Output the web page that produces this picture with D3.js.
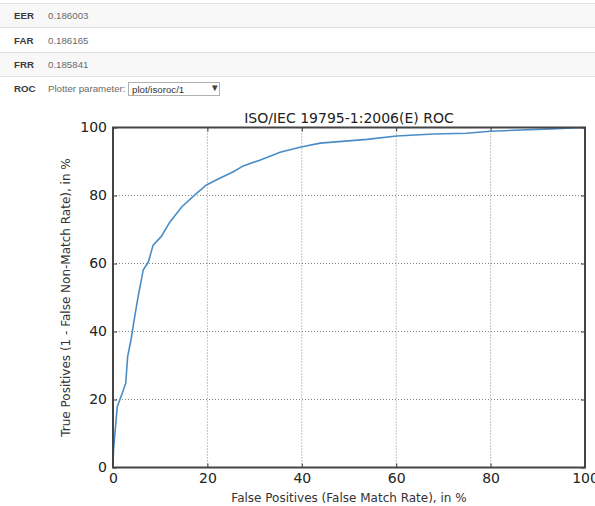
<!DOCTYPE html>
<html>
<head>
<meta charset="utf-8">
<script src="https://cdn.jsdelivr.net/npm/d3@7"></script>
<style>
  body { margin: 0; background: #fff; }
  .tbl text { font-family: "Liberation Sans", Arial, sans-serif; font-size: 9.7px; }
  .plot text { font-family: "DejaVu Sans", sans-serif; }
  .tick line { stroke: #333; }
</style>
</head>
<body>
<div id="chart"></div>
<script>
// summary rows above the plot
var rowLabels = ["EER", "FAR", "FRR"];
var rowValues = ["0.186003", "0.186165", "0.185841"];
var plotterOption = "plot/isoroc/1";

// ROC curve, in %
var fpr = [0, 0.1, 0.9, 2.0, 2.7, 3.1, 3.8, 4.6, 5.2, 6.4, 7.5, 8.5, 10.2, 12.1, 14.6, 17.7,
           19.8, 22.5, 25.5, 27.6, 31.1, 35.4, 39.6, 43.9, 53.8, 60.1, 67.9, 74.9, 79.9, 92.6, 100];
var tpr = [0, 5, 17.9, 22, 24.8, 32.6, 37.5, 44.4, 49.3, 58.1, 60.5, 65.4, 67.9, 72.3, 76.7, 80.6,
           83.1, 85, 87, 88.7, 90.4, 92.7, 94.2, 95.4, 96.5, 97.5, 98.1, 98.3, 98.9, 99.6, 100];
var tickValues = [0, 20, 40, 60, 80, 100];

var svgWidth = 595;
var svgHeight = 506;

var svg = d3.select("#chart")
    .append("svg")
    .attr("width", svgWidth)
    .attr("height", svgHeight);

// Table part
var tbl = svg.append("g").attr("class", "tbl");
var rowTop = [3, 27, 52, 76];
var rowH = [24, 25, 24, 24];

tbl.selectAll("rect.row")
    .data(rowTop)
    .enter()
    .append("rect")
    .attr("class", "row")
    .attr("x", 0)
    .attr("y", d => d)
    .attr("width", svgWidth)
    .attr("height", (d, i) => rowH[i])
    .attr("fill", (d, i) => i % 2 == 0 ? "#f8f8f8" : "#fff");

tbl.selectAll("line.border")
    .data(rowTop)
    .enter()
    .append("line")
    .attr("class", "border")
    .attr("x1", 0).attr("x2", svgWidth)
    .attr("y1", d => d + 0.5).attr("y2", d => d + 0.5)
    .attr("stroke", "#e2e2e2");

tbl.selectAll("text.lab")
    .data(rowLabels.concat(["ROC"]))
    .enter()
    .append("text")
    .attr("class", "lab")
    .attr("x", 14)
    .attr("y", (d, i) => rowTop[i] + rowH[i] / 2 + 4)
    .attr("font-weight", "bold")
    .attr("fill", "#3a3a3a")
    .text(d => d);

tbl.selectAll("text.val")
    .data(rowValues)
    .enter()
    .append("text")
    .attr("class", "val")
    .attr("x", 48)
    .attr("y", (d, i) => rowTop[i] + rowH[i] / 2 + 4)
    .attr("fill", "#6a6a6a")
    .text(d => d);

tbl.append("text")
    .attr("x", 48)
    .attr("y", 92)
    .attr("fill", "#6a6a6a")
    .text("Plotter parameter:");

tbl.append("rect")
    .attr("x", 128.5).attr("y", 82.5)
    .attr("width", 91).attr("height", 13)
    .attr("fill", "#fff")
    .attr("stroke", "#b0b0b0");

tbl.append("text")
    .attr("x", 132)
    .attr("y", 92.5)
    .attr("fill", "#333")
    .text(plotterOption);

tbl.append("text")
    .attr("x", 210)
    .attr("y", 91)
    .attr("font-size", "5px")
    .attr("fill", "#444")
    .text("\u25BC");

// Plot part
var margin = { top: 127.5, right: 10, bottom: 38.5, left: 113 };
var width = svgWidth - margin.left - margin.right;
var height = svgHeight - margin.top - margin.bottom;

var plot = svg.append("g")
    .attr("class", "plot")
    .attr("transform", `translate(${margin.left}, ${margin.top})`);

var xScale = d3.scaleLinear().domain([0, 100]).range([0, width]);
var yScale = d3.scaleLinear().domain([0, 100]).range([height, 0]);

// dotted grid
plot.append("g").selectAll("line")
    .data(tickValues.slice(1, -1))
    .enter()
    .append("line")
    .attr("x1", d => xScale(d)).attr("x2", d => xScale(d))
    .attr("y1", 0).attr("y2", height)
    .attr("stroke", "#888")
    .attr("stroke-dasharray", "1,2");

plot.append("g").selectAll("line")
    .data(tickValues.slice(1, -1))
    .enter()
    .append("line")
    .attr("x1", 0).attr("x2", width)
    .attr("y1", d => yScale(d)).attr("y2", d => yScale(d))
    .attr("stroke", "#888")
    .attr("stroke-dasharray", "1,2");

// axes with inward ticks
var bottomAxis = d3.axisBottom(xScale).tickValues(tickValues).tickSize(-4).tickSizeOuter(0).tickPadding(6);
var leftAxis = d3.axisLeft(yScale).tickValues(tickValues).tickSize(-4).tickSizeOuter(0).tickPadding(6);
var topAxis = d3.axisTop(xScale).tickValues(tickValues).tickSize(-4).tickSizeOuter(0).tickFormat("");
var rightAxis = d3.axisRight(yScale).tickValues(tickValues).tickSize(-4).tickSizeOuter(0).tickFormat("");

[[bottomAxis, `translate(0, ${height})`], [leftAxis, null],
 [topAxis, null], [rightAxis, `translate(${width}, 0)`]].forEach(function(a) {
    var g = plot.append("g").call(a[0]);
    if (a[1]) g.attr("transform", a[1]);
    g.select(".domain").remove();
    g.selectAll("text")
        .attr("font-family", "DejaVu Sans, sans-serif")
        .attr("font-size", "14px")
        .attr("fill", "#222");
});

// ROC line
var rocLine = d3.line()
    .x((d, i) => xScale(fpr[i]))
    .y(d => yScale(d));

plot.append("path")
    .datum(tpr)
    .attr("d", rocLine)
    .attr("fill", "none")
    .attr("stroke", "#4a8cc6")
    .attr("stroke-width", 1.6);

// frame
plot.append("rect")
    .attr("width", width)
    .attr("height", height)
    .attr("fill", "none")
    .attr("stroke", "#444")
    .attr("stroke-width", 2);

// title and labels
plot.append("text")
    .attr("x", width / 2)
    .attr("y", -5)
    .attr("text-anchor", "middle")
    .attr("font-size", "14px")
    .attr("fill", "#222")
    .text("ISO/IEC 19795-1:2006(E) ROC");

plot.append("text")
    .attr("x", width / 2)
    .attr("y", height + 34)
    .attr("text-anchor", "middle")
    .attr("font-size", "12px")
    .attr("fill", "#333")
    .text("False Positives (False Match Rate), in %");

plot.append("text")
    .attr("transform", "rotate(-90)")
    .attr("x", -height / 2)
    .attr("y", -43)
    .attr("text-anchor", "middle")
    .attr("font-size", "12px")
    .attr("fill", "#333")
    .text("True Positives (1 - False Non-Match Rate), in %");
</script>
</body>
</html>
